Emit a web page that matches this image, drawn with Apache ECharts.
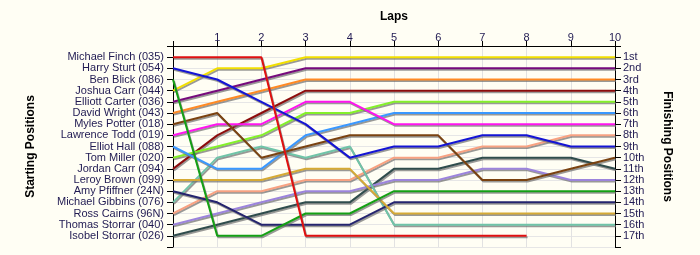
<!DOCTYPE html>
<html>
<head>
<meta charset="utf-8">
<script src="https://cdn.jsdelivr.net/npm/echarts@6/dist/echarts.min.js"></script>
<style>
html,body{margin:0;padding:0;background:#fffef4;}
#c{width:700px;height:255px;}
</style>
</head>
<body>
<div id="c"></div>
<script>
const laps = [0,1,2,3,4,5,6,7,8,9,10];
const lapTicks = ['1','2','3','4','5','6','7','8','9','10'];
const drivers = [
  'Michael Finch (035)','Harry Sturt (054)','Ben Blick (086)','Joshua Carr (044)',
  'Elliott Carter (036)','David Wright (043)','Myles Potter (018)','Lawrence Todd (019)',
  'Elliot Hall (088)','Tom Miller (020)','Jordan Carr (094)','Leroy Brown (099)',
  'Amy Pfiffner (24N)','Michael Gibbins (076)','Ross Cairns (96N)','Thomas Storrar (040)',
  'Isobel Storrar (026)'
];
const finishLabels = ['1st','2nd','3rd','4th','5th','6th','7th','8th','9th','10th','11th','12th','13th','14th','15th','16th','17th'];
// positions per lap (lap 0 = start)
const finch    = [1,1,1,17,17,17,17,17,17];
const sturt    = [2,3,5,7,10,9,9,8,8,9,9];
const blick    = [3,17,17,15,15,13,13,13,13,13,13];
const jcarr    = [4,2,2,1,1,1,1,1,1,1,1];
const carter   = [5,4,3,2,2,2,2,2,2,2,2];
const wright   = [6,5,4,3,3,3,3,3,3,3,3];
const potter   = [7,6,10,9,8,8,8,12,12,11,10];
const todd     = [8,7,7,5,5,7,7,7,7,7,7];
const hall     = [9,11,11,8,7,6,6,6,6,6,6];
const miller   = [10,9,8,6,6,5,5,5,5,5,5];
const jocarr   = [11,8,6,4,4,4,4,4,4,4,4];
const brown    = [12,12,12,11,11,15,15,15,15,15,15];
const pfiffner = [13,14,16,16,16,14,14,14,14,14,14];
const gibbins  = [14,10,9,10,9,16,16,16,16,16,16];
const cairns   = [15,13,13,12,12,10,10,9,9,8,8];
const tstorrar = [16,15,14,13,13,12,12,11,11,12,12];
const istorrar = [17,16,15,14,14,11,11,10,10,10,11];
const colors = ['#e01010','#1414d4','#14a014','#f2df00','#760a7c','#ff8a24','#7a4210','#ff14ee',
  '#3a98ff','#84f02a','#8c0c0c','#d6aa34','#24246e','#70c4a8','#f8a282','#9c84dc','#2f4c4c'];

const allPos = [finch,sturt,blick,jcarr,carter,wright,potter,todd,hall,miller,jocarr,brown,pfiffner,gibbins,cairns,tstorrar,istorrar];

const series = [];
for (let i = allPos.length - 1; i >= 0; i--) {
  series.push({
    name: drivers[i],
    type: 'line',
    symbol: 'none',
    animation: false,
    data: allPos[i].map((p, k) => [laps[k], p]),
    lineStyle: {
      color: colors[i], width: 2,
      shadowColor: 'rgba(110,110,110,0.7)', shadowBlur: 0, shadowOffsetX: 1, shadowOffsetY: 1.5
    }
  });
}

const txt = '#201a52';
const chart = echarts.init(document.getElementById('c'), null, {renderer: 'canvas'});
chart.setOption({
  backgroundColor: '#fffef4',
  animation: false,
  grid: {left: 173, right: 85, top: 46, bottom: 8},
  xAxis: {
    type: 'value', position: 'top', min: 0, max: 10, interval: 1,
    name: 'Laps', nameLocation: 'middle', nameGap: 23,
    nameTextStyle: {fontFamily: 'Liberation Sans', fontWeight: 'bold', fontSize: 12, color: '#000'},
    axisLine: {show: true, lineStyle: {color: '#000', width: 1}},
    axisTick: {show: true, inside: false, length: 5, lineStyle: {color: '#000'}},
    axisLabel: {
      fontFamily: 'Liberation Sans', fontSize: 11, color: txt, margin: 3,
      formatter: v => (v >= 1 && v <= 10) ? lapTicks[v - 1] : ''
    },
    splitLine: {show: true, lineStyle: {color: '#e2e2e2', width: 1}}
  },
  yAxis: [
    {
      type: 'value', position: 'left', inverse: true, min: 0, max: 18, interval: 1,
      name: 'Starting Positions', nameLocation: 'middle', nameGap: 136, nameRotate: 90,
      nameTextStyle: {fontFamily: 'Liberation Sans', fontWeight: 'bold', fontSize: 12, color: '#000'},
      axisLine: {show: true, lineStyle: {color: '#000'}},
      axisTick: {show: true, inside: false, length: 6, lineStyle: {color: '#000'}},
      axisLabel: {
        fontFamily: 'Liberation Sans', fontSize: 11, color: txt, margin: 9,
        formatter: v => (v >= 1 && v <= 17) ? drivers[v - 1] : ''
      },
      splitLine: {show: true, lineStyle: {color: '#e6e6e6', width: 1}}
    },
    {
      type: 'value', position: 'right', inverse: true, min: 0, max: 18, interval: 1,
      name: 'Finishing Positions', nameLocation: 'middle', nameGap: 46, nameRotate: -90,
      nameTextStyle: {fontFamily: 'Liberation Sans', fontWeight: 'bold', fontSize: 12, color: '#000'},
      axisLine: {show: true, lineStyle: {color: '#000'}},
      axisTick: {show: true, inside: false, length: 6, lineStyle: {color: '#000'}},
      axisLabel: {
        fontFamily: 'Liberation Sans', fontSize: 11, color: txt, margin: 8,
        formatter: v => (v >= 1 && v <= 17) ? finishLabels[v - 1] : ''
      },
      splitLine: {show: false}
    }
  ],
  series: series
});
</script>
</body>
</html>
